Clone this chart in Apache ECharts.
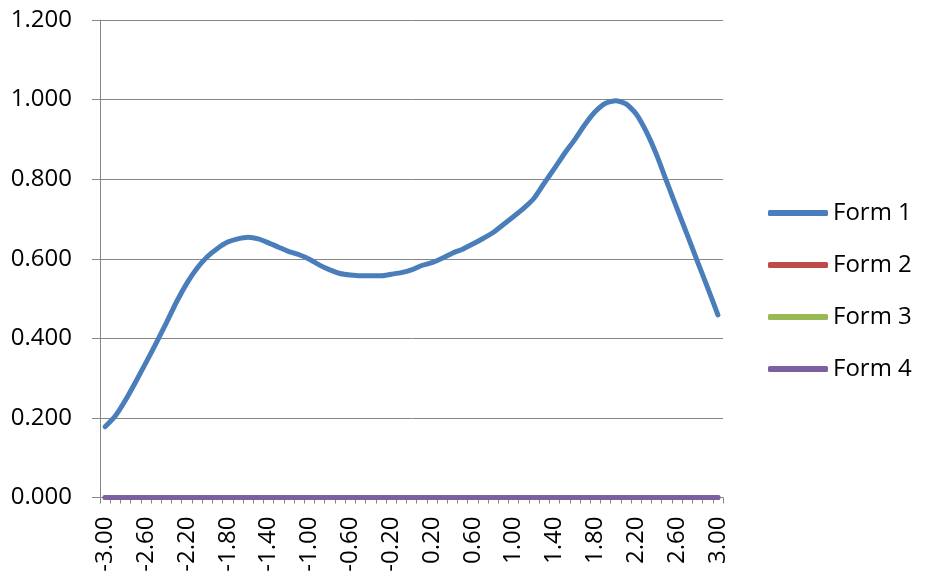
<!DOCTYPE html>
<html>
<head>
<meta charset="utf-8">
<script src="https://cdn.jsdelivr.net/npm/echarts@6/dist/echarts.min.js"></script>
<style>
html,body{margin:0;padding:0;background:#fff;}
#chart{width:929px;height:575px;}
</style>
</head>
<body>
<div id="chart"></div>
<script>
var categories = ['-3.00','-2.90','-2.80','-2.70','-2.60','-2.50','-2.40','-2.30','-2.20','-2.10',
  '-2.00','-1.90','-1.80','-1.70','-1.60','-1.50','-1.40','-1.30','-1.20','-1.10',
  '-1.00','-0.90','-0.80','-0.70','-0.60','-0.50','-0.40','-0.30','-0.20','-0.10',
  '0.00','0.10','0.20','0.30','0.40','0.50','0.60','0.70','0.80','0.90',
  '1.00','1.10','1.20','1.30','1.40','1.50','1.60','1.70','1.80','1.90',
  '2.00','2.10','2.20','2.30','2.40','2.50','2.60','2.70','2.80','2.90','3.00'];

var form1 = [0.178,0.205,0.245,0.291,0.339,0.388,0.439,0.492,0.538,0.576,
  0.605,0.626,0.642,0.650,0.654,0.650,0.640,0.629,0.618,0.610,
  0.599,0.584,0.572,0.563,0.559,0.557,0.557,0.557,0.561,0.565,
  0.572,0.583,0.590,0.601,0.614,0.624,0.637,0.651,0.666,0.686,
  0.706,0.727,0.752,0.790,0.827,0.865,0.900,0.938,0.970,0.991,
  0.997,0.989,0.964,0.919,0.861,0.793,0.726,0.660,0.593,0.527,0.459];

var form2 = [0,0,0,0,0,0,0,0,0,0, 0,0,0,0,0,0,0,0,0,0, 0,0,0,0,0,0,0,0,0,0,
  0,0,0,0,0,0,0,0,0,0, 0,0,0,0,0,0,0,0,0,0, 0,0,0,0,0,0,0,0,0,0, 0];
var form3 = [0,0,0,0,0,0,0,0,0,0, 0,0,0,0,0,0,0,0,0,0, 0,0,0,0,0,0,0,0,0,0,
  0,0,0,0,0,0,0,0,0,0, 0,0,0,0,0,0,0,0,0,0, 0,0,0,0,0,0,0,0,0,0, 0];
var form4 = [0,0,0,0,0,0,0,0,0,0, 0,0,0,0,0,0,0,0,0,0, 0,0,0,0,0,0,0,0,0,0,
  0,0,0,0,0,0,0,0,0,0, 0,0,0,0,0,0,0,0,0,0, 0,0,0,0,0,0,0,0,0,0, 0];

var seriesNames = ['Form 1','Form 2','Form 3','Form 4'];
var seriesData = [form1, form2, form3, form4];
var seriesColors = ['#4A7EBB','#BE4B48','#98B954','#7D60A0'];

var FONT = '"Open Sans", "Liberation Sans", sans-serif';
var chart = echarts.init(document.getElementById('chart'), null, {renderer:'canvas'});

var series = seriesNames.map(function(n, k){
  return {
    name: n,
    type: 'line',
    data: seriesData[k],
    showSymbol: false,
    symbol: 'none',
    smooth: 0.2,
    lineStyle: {width: 5, color: seriesColors[k], cap: 'round', join: 'round'},
    itemStyle: {color: seriesColors[k]},
    emphasis: {disabled: true},
    animation: false
  };
});

chart.setOption({
  animation: false,
  backgroundColor: '#fff',
  grid: {left: 100, right: 206, top: 20, bottom: 77.5, containLabel: false},
  legend: {
    orient: 'vertical',
    left: 768,
    top: 201,
    padding: 0,
    itemWidth: 60,
    itemHeight: 6,
    itemGap: 28,
    icon: 'roundRect',
    data: seriesNames,
    textStyle: {fontFamily: FONT, fontSize: 24, color: '#000', lineHeight: 24}
  },
  xAxis: {
    type: 'category',
    data: categories,
    boundaryGap: true,
    axisLine: {show: true, lineStyle: {color: '#868686', width: 1}},
    axisTick: {show: true, interval: 0, length: 6, inside: false, alignWithLabel: false, lineStyle: {color: '#868686'}},
    axisLabel: {interval: 3, rotate: 90, margin: 19, fontFamily: FONT, fontSize: 24, color: '#000'},
    splitLine: {show: false}
  },
  yAxis: {
    type: 'value',
    min: 0,
    max: 1.2,
    interval: 0.2,
    axisLine: {show: true, lineStyle: {color: '#868686', width: 1}},
    axisTick: {show: true, length: 8, lineStyle: {color: '#868686'}},
    axisLabel: {margin: 28, fontFamily: FONT, fontSize: 24, color: '#000',
      formatter: function(v){ return v.toFixed(3); }},
    splitLine: {show: true, lineStyle: {color: '#868686', width: 1}}
  },
  series: series
});
</script>
</body>
</html>
